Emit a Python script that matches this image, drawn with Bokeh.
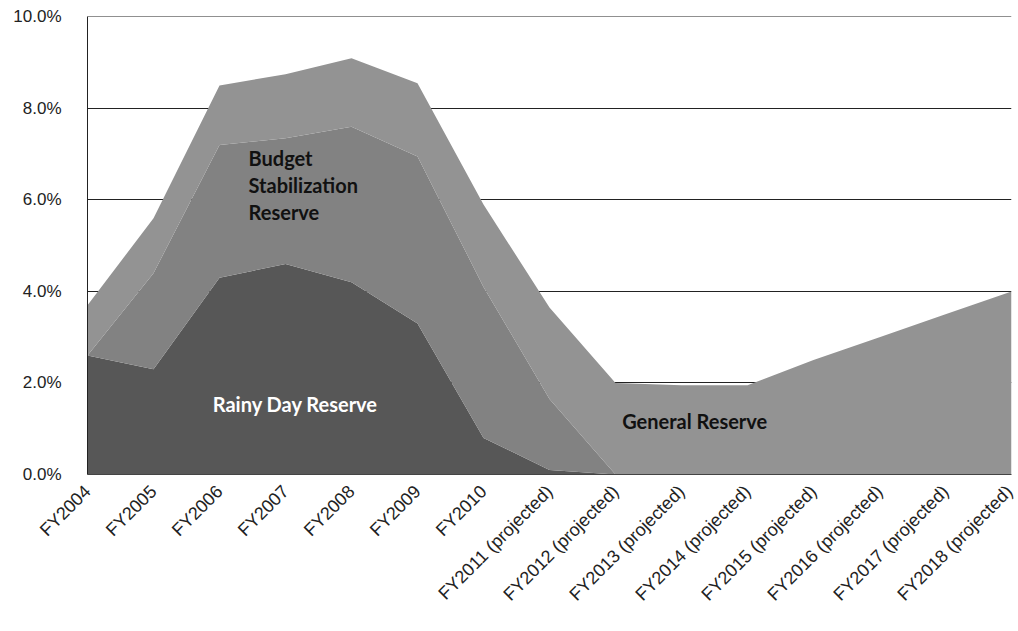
import math
from bokeh.plotting import figure
from bokeh.models import Range1d, FixedTicker, PrintfTickFormatter, Label, ColumnDataSource
from bokeh.embed import file_html
from bokeh.resources import INLINE

categories = ["FY2004", "FY2005", "FY2006", "FY2007", "FY2008", "FY2009", "FY2010",
              "FY2011 (projected)", "FY2012 (projected)", "FY2013 (projected)",
              "FY2014 (projected)", "FY2015 (projected)", "FY2016 (projected)",
              "FY2017 (projected)", "FY2018 (projected)"]
rainy_day = [2.6, 2.3, 4.3, 4.6, 4.2, 3.3, 0.8, 0.1, 0.0, 0.0, 0.0, 0.0, 0.0, 0.0, 0.0]
budget_stab = [0.0, 2.1, 2.9, 2.75, 3.4, 3.65, 3.3, 1.55, 0.0, 0.0, 0.0, 0.0, 0.0, 0.0, 0.0]
general = [1.1, 1.2, 1.3, 1.4, 1.5, 1.6, 1.8, 2.0, 2.0, 1.95, 1.95, 2.5, 3.0, 3.5, 4.0]
y_ticks = [0, 2, 4, 6, 8, 10]

xs = list(range(len(categories)))
src = ColumnDataSource(dict(x=xs, rainy=rainy_day, budget=budget_stab, general=general))

p = figure(width=1016, height=620, output_backend="svg", toolbar_location=None,
           x_range=Range1d(0, len(categories) - 1), y_range=Range1d(0, 10.01),
           min_border_left=87, min_border_right=5, min_border_top=16, min_border_bottom=146)
p.outline_line_color = None
p.background_fill_color = "white"

p.varea_stack(stackers=["rainy", "budget", "general"], x="x", source=src,
              color=["#575757", "#828282", "#939393"])

# axes
p.xaxis.ticker = FixedTicker(ticks=xs)
p.xaxis.major_label_overrides = {i: c for i, c in enumerate(categories)}
p.xaxis.major_label_orientation = math.pi / 4
p.xaxis.major_tick_line_color = None
p.xaxis.minor_tick_line_color = None
p.xaxis.axis_line_color = "#444444"
p.xaxis.major_label_text_font = "Liberation Sans"
p.xaxis.major_label_text_font_size = "18px"
p.xaxis.major_label_text_color = "#222222"
p.xaxis.major_label_standoff = 8

p.yaxis.ticker = FixedTicker(ticks=y_ticks)
p.yaxis.formatter = PrintfTickFormatter(format="%.1f%%")
p.yaxis.major_tick_line_color = None
p.yaxis.minor_tick_line_color = None
p.yaxis.axis_line_color = "#222222"
p.yaxis.major_label_text_font = "Liberation Sans"
p.yaxis.major_label_text_font_size = "17px"
p.yaxis.major_label_text_color = "#222222"
p.yaxis.major_label_standoff = 20

p.xgrid.grid_line_color = None
p.ygrid.ticker = FixedTicker(ticks=y_ticks)
p.ygrid.grid_line_color = "#222222"
p.ygrid.grid_line_width = 1

lab_font = "Lato"
for i, t in enumerate(["Budget", "Stabilization", "Reserve"]):
    p.add_layout(Label(x=2.44, y=6.92 - 0.59 * i, text=t, text_font=lab_font,
                       text_font_style="bold", text_font_size="20px", text_color="#111111",
                       text_baseline="middle", text_align="left"))
p.add_layout(Label(x=3.15, y=1.55, text="Rainy Day Reserve", text_font=lab_font,
                   text_font_style="bold", text_font_size="20px", text_color="white",
                   text_baseline="middle", text_align="center"))
p.add_layout(Label(x=9.2, y=1.16, text="General Reserve", text_font=lab_font,
                   text_font_style="bold", text_font_size="20px", text_color="#111111",
                   text_baseline="middle", text_align="center"))

open("out.html", "w").write(file_html(p, INLINE))
